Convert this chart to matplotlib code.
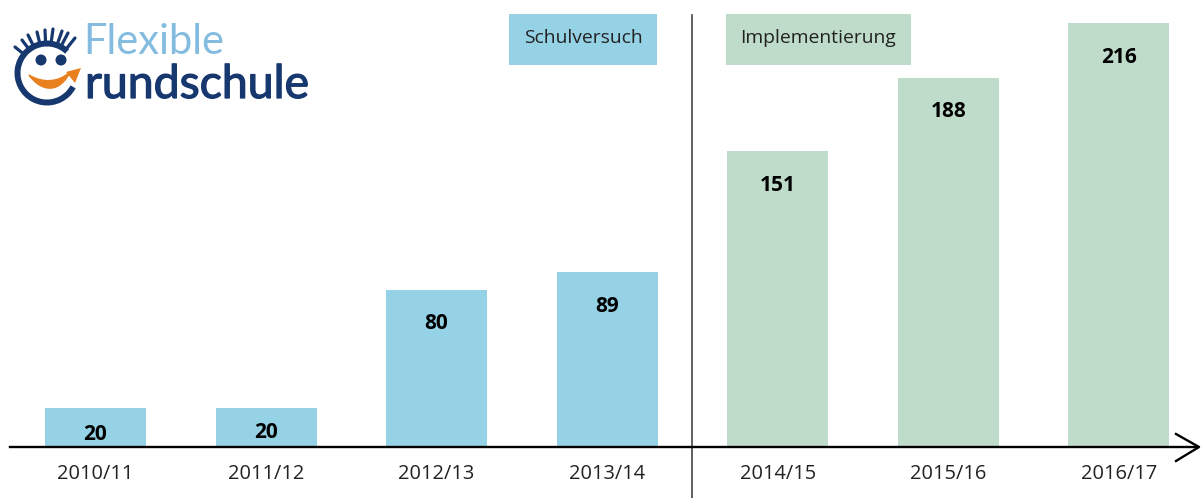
import matplotlib
matplotlib.use("Agg")
import matplotlib.pyplot as plt
import matplotlib.patheffects as pe
from matplotlib.patches import Arc, Circle, Polygon, Rectangle, PathPatch
from matplotlib.path import Path

years = ["2010/11", "2011/12", "2012/13", "2013/14", "2014/15", "2015/16", "2016/17"]
values = [20, 20, 80, 89, 151, 188, 216]
phases = ["Schulversuch", "Schulversuch", "Schulversuch", "Schulversuch",
          "Implementierung", "Implementierung", "Implementierung"]
label_drop = [27, 25, 34, 34, 35, 34, 35]  # px below bar top

phase_colors = {"Schulversuch": "#95D2E6", "Implementierung": "#BFDCCA"}
NAVY = "#17386F"
SKY = "#84BCE0"
ORANGE = "#E8801E"

plt.rcParams["font.family"] = ["Open Sans", "DejaVu Sans"]

fig = plt.figure(figsize=(12.01, 4.98), dpi=100)
ax = fig.add_axes([0, 0, 1, 1])
ax.set_xlim(-0.56, 6.482)
ax.set_ylim(-26, 227.7)
ax.axis("off")

x = range(len(years))
ax.bar(x, values, width=0.592, color=[phase_colors[p] for p in phases], zorder=2)

for i, v in enumerate(values):
    ax.annotate(str(v), (i, v), xytext=(0, -label_drop[i] / 100 * 72), textcoords="offset points",
                ha="center", va="center", fontsize=15, fontweight="bold", color="black", zorder=4)
    ax.annotate(years[i], (i, 0), xytext=(0, -27 / 100 * 72), textcoords="offset points",
                ha="center", va="center", fontsize=14.4, color="#222222", zorder=4)

# overlay in pixel coordinates for axis line, boxes and logo
ov = fig.add_axes([0, 0, 1, 1], facecolor="none")
ov.set_xlim(0, 1201)
ov.set_ylim(498, 0)
ov.axis("off")

# baseline with open arrow head
ov.plot([10, 1198], [447, 447], color="black", lw=1.7, zorder=5)
ov.plot([1176, 1199, 1176], [434, 447, 461], color="black", lw=1.7, zorder=5)
# divider between the two phases
ov.plot([692, 692], [15, 498], color="#444444", lw=1.2, zorder=3)

# phase boxes
for name, x0, w in [("Schulversuch", 509, 148), ("Implementierung", 726, 185)]:
    ov.add_patch(Rectangle((x0, 14), w, 51, color=phase_colors[name], lw=0, zorder=2))
    ov.text(x0 + w / 2, 38, name, ha="center", va="center", fontsize=13.9, color="#222222", zorder=4)

# logo
ov.add_patch(Arc((47, 73), 59, 59, theta1=28, theta2=313, color=NAVY, lw=4.3, zorder=6))
lashes = [(15, 47), (22, 40), (28, 35), (37, 32), (45, 30), (53, 29), (62, 31), (68, 33), (75, 38)]
for lx, ly in lashes:
    ov.plot([lx, lx + (47 - lx) * 0.3], [ly, ly + (73 - ly) * 0.3], color=NAVY, lw=2.3,
            solid_capstyle="round", zorder=6)
ov.add_patch(Circle((41, 60), 5.5, color=NAVY, lw=0, zorder=6))
ov.add_patch(Circle((61, 60), 5.5, color=NAVY, lw=0, zorder=6))
smile = Path([(29, 75), (42, 83), (58, 83), (70, 72), (60, 93), (42, 93), (29, 75)],
             [Path.MOVETO, Path.CURVE4, Path.CURVE4, Path.CURVE4, Path.CURVE4, Path.CURVE4, Path.CURVE4])
ov.add_patch(PathPatch(smile, facecolor=ORANGE, edgecolor=ORANGE, lw=1, zorder=7))
ov.add_patch(Polygon([(66, 72), (81, 68), (75, 83)], color=ORANGE, lw=0, zorder=7))
ov.text(83, 54, "Flexible", fontsize=30, family=["Lato", "DejaVu Sans"], fontweight="normal",
        color=SKY, ha="left", va="baseline", zorder=6)
ov.text(85, 98, "rundschule", fontsize=33.4, family=["Lato", "DejaVu Sans"],
        color=NAVY, ha="left", va="baseline", zorder=6,
        path_effects=[pe.withStroke(linewidth=0.9, foreground=NAVY)])

fig.savefig("out.png", dpi=100, facecolor="white")
